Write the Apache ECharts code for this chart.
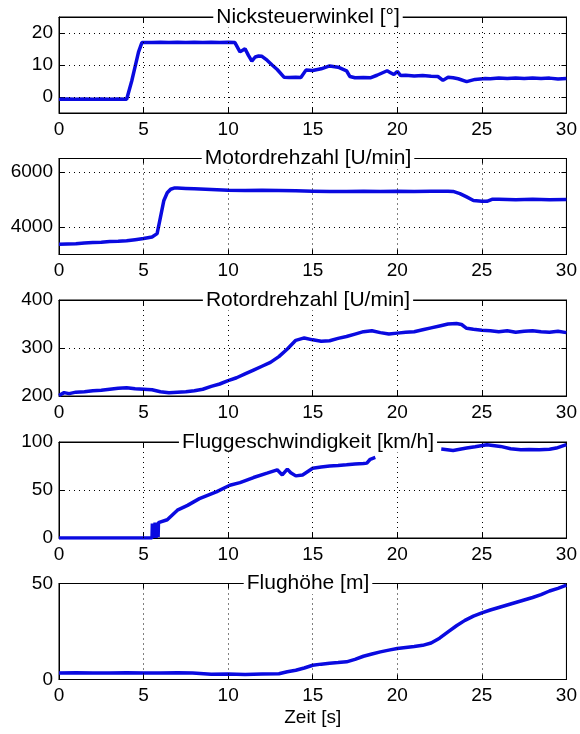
<!DOCTYPE html>
<html><head><meta charset="utf-8">
<script src="https://cdn.jsdelivr.net/npm/echarts@6/dist/echarts.min.js"></script>
<style>html,body{margin:0;padding:0;background:#fff}#c{width:580px;height:734px}</style>
</head><body><div id="c"></div>
<script>
const titles = ['Nicksteuerwinkel [°]','Motordrehzahl [U/min]','Rotordrehzahl [U/min]','Fluggeschwindigkeit [km/h]','Flughöhe [m]'];
const xLabel = 'Zeit [s]';
const xTicks = [0,5,10,15,20,25,30];

const time1 = [0,0.5,1,1.5,2,2.5,3,3.5,4,
 4.1,4.3,4.5,4.7,4.9,
 5,5.5,6,6.5,7,7.5,8,8.5,9,9.5,10,
 10.4,10.7,11.0,11.2,11.4,11.6,11.8,12.0,12.3,12.6,12.9,13.3,13.6,14,14.3,14.6,
 15,15.5,16,16.5,17,17.2,17.5,18,18.4,18.8,19.1,19.4,19.6,19.8,20,20.2,20.5,
 21,21.5,22,22.4,22.7,23,23.3,23.6,24.1,24.6,25.2,25.5,26,26.5,27,27.5,28,28.5,29,29.5,30];
const pitch = [-0.7,-0.6,-0.7,-0.6,-0.7,-0.6,-0.7,-0.6,-0.7,
 -0.3,5,9.5,14,17,
 17.1,17,17.1,17,17.1,17,17.1,17,17.1,17,17.1,
 17,14.1,15.1,13,11.2,12.5,12.8,12.7,11.5,10,8.6,6.2,6.1,6.2,6.1,8.4,
 8.3,8.8,9.7,9.3,8.2,6.4,6.0,6.1,6.0,6.8,7.5,8.2,7.6,7.0,8.0,6.7,6.8,
 6.6,6.7,6.5,6.4,5.2,6.2,6.0,5.7,4.8,5.5,5.8,5.7,5.9,5.8,5.9,5.8,5.9,5.8,5.9,5.6,5.8];

const time2 = [0,0.5,1,1.5,2,2.5,3,3.5,4,4.5,5,5.5,
 5.8,6.0,6.2,6.4,6.6,6.8,7,7.5,8,
 9,10,11,12,13,14,15,16,17,18,19,20,21,22,23,
 23.3,23.7,24.1,24.5,25,25.3,25.6,26,
 27,28,29,30];
const motorRpm = [3370,3380,3390,3420,3440,3450,3470,3480,3500,3540,3580,3640,
 3760,4360,4970,5250,5380,5420,5420,5410,5400,
 5370,5340,5330,5340,5330,5320,5310,5300,5300,5310,5300,5310,5300,5310,5310,
 5300,5220,5100,4970,4940,4940,5010,5010,
 5000,5010,5000,5005];

const time3 = [0,0.3,0.6,1,
 1.5,2,2.5,3,3.5,4,4.5,5,5.5,6,6.5,7,7.5,8,8.5,9,9.5,10,10.5,11,11.5,12,12.5,13,13.5,14,14.5,15,15.5,16,16.5,17,17.5,18,18.5,19,19.5,20,20.5,21,21.5,22,22.5,23,23.5,
 23.8,24.1,
 24.5,25,25.5,26,26.5,27,27.5,28,28.5,29,29.5,30];
const rotorRpm = [201,207,205,208,
 209,211,212,214,216,217,215,214,213,209,207,208,209,211,214,220,225,232,238,246,254,262,270,282,298,316,321,317,314,315,320,324,329,334,336,332,329,331,333,334,338,342,346,350,351,
 349,341,
 339,337,336,334,336,333,335,336,334,333,335,332];

const time4 = [0,1,2,3,4,5,5.5,
 5.52,5.54,5.56,5.58,5.6,5.62,5.64,5.66,5.68,5.7,5.72,5.74,5.76,5.78,5.8,5.82,5.84,5.86,5.88,5.9,
 6.4,7.0,7.6,8.3,9.3,10.1,10.7,11.5,12.3,12.9,
 13.2,13.5,13.7,14.0,14.4,
 15,15.5,16,16.5,17,17.5,18,18.2,18.4,18.7,
 20.5,
 22.6,23.3,24.1,24.6,25.3,26.1,26.7,27.3,27.8,28.4,29,29.4,30];
const speed = [0,0,0,0,0,0,0,
 15,0,14,0,15,1,15,0,16,1,15,0,16,1,15,2,16,1,16,16.5,
 19,29,34,41,48,55,57.7,63,67.5,71,
 65.7,71.7,68,64.7,65.7,
 72.7,74,75,75.5,76.2,77,77.5,78,82,83.9,
 null,
 92.6,91.2,93.7,95,97.2,95.4,93,91.9,92.3,91.9,92.5,93.7,97.2];

const time5 = [0,1,2,3,4,5,6,7,7.9,8,9,10,11,12,13,
 13.5,14,14.5,15,15.5,16,16.5,17,17.5,18,18.5,19,19.5,20,20.5,21,21.5,22,22.5,23,23.5,24,24.5,25,25.5,26,26.5,27,27.5,28,28.5,29,29.5,30];
const altitude = [3.4,3.5,3.4,3.4,3.5,3.4,3.4,3.5,3.4,2.8,2.7,2.8,2.6,2.8,3.0,
 4.0,4.8,6.0,7.4,8.0,8.5,8.8,9.2,10.5,12.1,13.3,14.4,15.3,16.1,16.7,17.2,17.8,19.0,21.5,24.8,28.0,30.8,33.0,34.7,36.2,37.5,38.8,40.1,41.4,42.7,44.2,46.1,47.5,49.1];

const yMin = [-5,3000,200,0,0];
const yMax = [25,6500,400,100,50];
const yTicks = [[0,10,20],[4000,6000],[200,300,400],[0,50,100],[0,50]];

const FONT = "'Liberation Sans', Arial, Helvetica, sans-serif";
const gridTops = [17,158.5,300,442,583.5];
const GH = 96, GL = 59, GR = 13;
const BLUE = '#0a0ae0';
const times = [time1,time2,time3,time4,time5];
const vals = [pitch,motorRpm,rotorRpm,speed,altitude];

const grids=[], xAxes=[], yAxes=[], series=[], graphics=[];
const dotted = {type:[1,4], color:'#000', width:1};
const plain = v => String(v);
for (let i=0;i<5;i++){
  grids.push({left:GL,right:GR,top:gridTops[i],height:GH,show:true,borderColor:'#000',borderWidth:1,backgroundColor:'#fff'});
  const isLast = i===4;
  xAxes.push({type:'value',gridIndex:i,min:0,max:30,position:'bottom',
    axisLine:{show:true,onZero:false,lineStyle:{color:'#000',width:1}},
    axisTick:{show:true,inside:true,length:5,customValues:xTicks,lineStyle:{color:'#000'}},
    axisLabel:{show:true,customValues:xTicks,formatter:plain,color:'#000',fontSize:19,fontFamily:FONT,margin:7},
    splitLine:{show:false},
    name:isLast?xLabel:'',nameLocation:'middle',nameGap:29,
    nameTextStyle:{color:'#000',fontSize:19,fontFamily:FONT}});
  xAxes.push({type:'value',gridIndex:i,min:0,max:30,position:'top',
    axisLine:{show:true,onZero:false,lineStyle:{color:'#000'}},
    axisTick:{show:true,inside:true,length:5,customValues:xTicks,lineStyle:{color:'#000'}},
    axisLabel:{show:false},splitLine:{show:false}});
  yAxes.push({type:'value',gridIndex:i,min:yMin[i],max:yMax[i],position:'left',
    axisLine:{show:true,onZero:false,lineStyle:{color:'#000'}},
    axisTick:{show:true,inside:true,length:5,customValues:yTicks[i],lineStyle:{color:'#000'}},
    axisLabel:{show:true,customValues:yTicks[i],formatter:plain,color:'#000',fontSize:19,fontFamily:FONT,margin:6},
    splitLine:{show:false}});
  yAxes.push({type:'value',gridIndex:i,min:yMin[i],max:yMax[i],position:'right',
    axisLine:{show:true,onZero:false,lineStyle:{color:'#000'}},
    axisTick:{show:true,inside:true,length:5,customValues:yTicks[i],lineStyle:{color:'#000'}},
    axisLabel:{show:false},splitLine:{show:false}});
  const innerX = xTicks.filter(v=>v>0&&v<30).map(v=>({xAxis:v}));
  const innerY = yTicks[i].filter(v=>v>yMin[i]&&v<yMax[i]).map(v=>({yAxis:v}));
  series.push({type:'line',xAxisIndex:2*i,yAxisIndex:2*i,
    data: times[i].map((t,k)=>[t, vals[i][k]===null?'-':vals[i][k]]),
    showSymbol:false,symbol:'none',connectNulls:false,animation:false,
    lineStyle:{color:BLUE,width:3.5},z:3,
    markLine:{silent:true,symbol:['none','none'],label:{show:false},animation:false,
      lineStyle:dotted,data:innerX.concat(innerY)}});
  graphics.push({type:'text',x:308,y:gridTops[i],z:100,
    style:{text:titles[i],fill:'#000',font:'21px '+FONT,
      align:'center',verticalAlign:'middle',textAlign:'center',textVerticalAlign:'middle',
      backgroundColor:'#fff',padding:[0,3]}});
}
const chart = echarts.init(document.getElementById('c'),null,{renderer:'canvas'});
chart.setOption({backgroundColor:'#fff',animation:false,grid:grids,xAxis:xAxes,yAxis:yAxes,series:series,graphic:graphics});
</script></body></html>
